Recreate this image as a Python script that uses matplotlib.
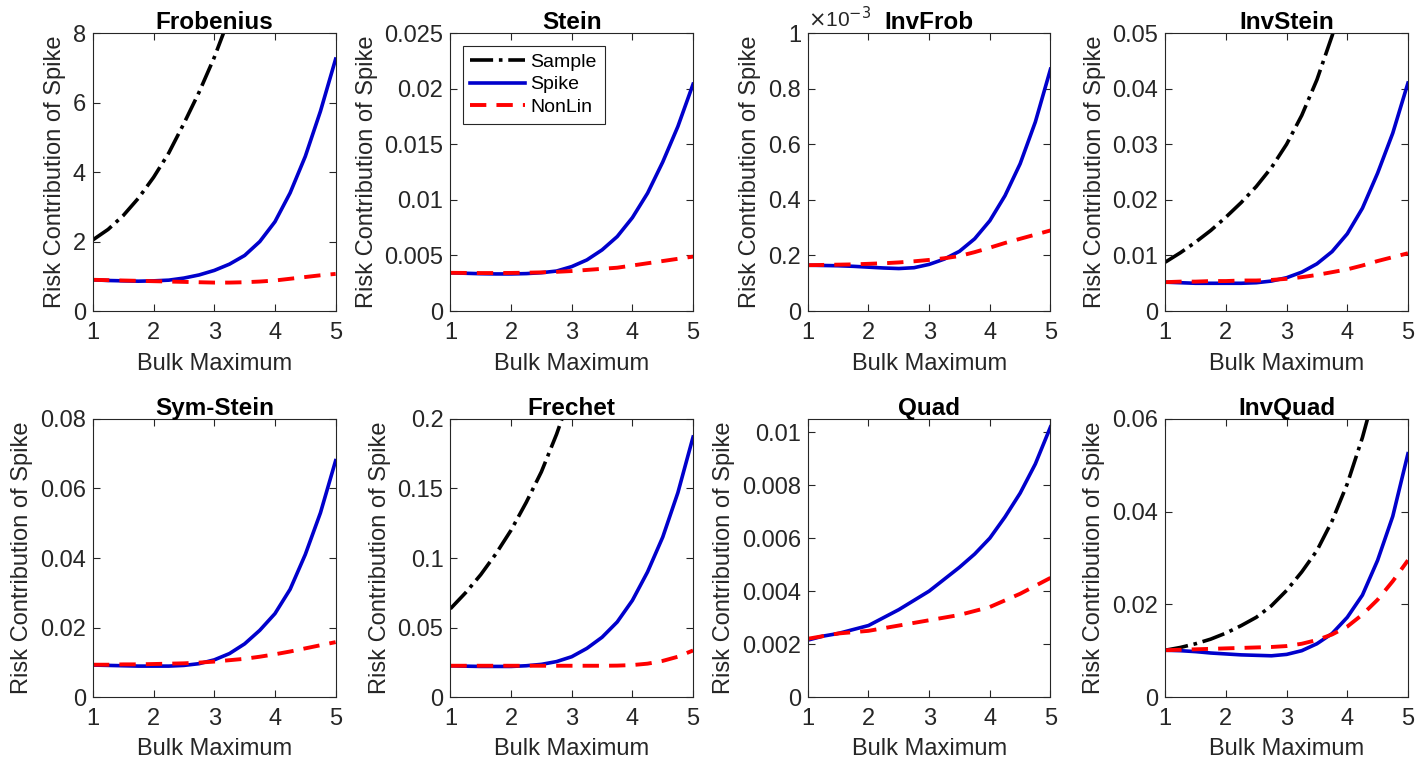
import numpy as np
import matplotlib
matplotlib.use('Agg')
import matplotlib.pyplot as plt
from matplotlib.lines import Line2D
from matplotlib.ticker import FuncFormatter

plt.rcParams['font.family'] = ['Liberation Sans', 'DejaVu Sans']

nan = np.nan
bulk_max = [1.0, 1.25, 1.5, 1.75, 2.0, 2.25, 2.5, 2.75, 3.0,
            3.25, 3.5, 3.75, 4.0, 4.25, 4.5, 4.75, 5.0]

titles = ['Frobenius', 'Stein', 'InvFrob', 'InvStein',
          'Sym-Stein', 'Frechet', 'Quad', 'InvQuad']

# values (nan = curve already above the axis)
sample = {
    'Frobenius': [2.05, 2.35, 2.75, 3.25, 3.85, 4.55, 5.4, 6.3, 7.3, 8.45, 9.8,
                  nan, nan, nan, nan, nan, nan],
    'InvStein': [0.0088, 0.0105, 0.0124, 0.0145, 0.0169, 0.0195, 0.0224, 0.0258,
                 0.0300, 0.0352, 0.0416, 0.0495, 0.058, nan, nan, nan, nan],
    'Frechet': [0.0635, 0.075, 0.088, 0.103, 0.120, 0.140, 0.162, 0.189, 0.22,
                0.255, nan, nan, nan, nan, nan, nan, nan],
    'InvQuad': [0.0101, 0.0107, 0.0115, 0.0125, 0.0138, 0.0154, 0.0172, 0.0197,
                0.0230, 0.027, 0.0316, 0.038, 0.046, 0.056, 0.068, nan, nan],
}

spike = {
    'Frobenius': [0.90, 0.88, 0.87, 0.86, 0.87, 0.89, 0.95, 1.04, 1.17,
                  1.35, 1.6, 2.0, 2.57, 3.4, 4.45, 5.75, 7.25],
    'Stein': [0.00344, 0.0034, 0.00336, 0.00334, 0.00334, 0.00337, 0.00345, 0.0036,
              0.0040, 0.0046, 0.0055, 0.0067, 0.0084, 0.0106, 0.0134, 0.0166, 0.0204],
    'InvFrob': [0.165e-3, 0.164e-3, 0.163e-3, 0.161e-3, 0.158e-3, 0.155e-3, 0.153e-3,
                0.156e-3, 0.168e-3, 0.187e-3, 0.215e-3, 0.26e-3, 0.325e-3, 0.415e-3,
                0.53e-3, 0.68e-3, 0.87e-3],
    'InvStein': [0.0052, 0.0051, 0.0050, 0.0050, 0.0050, 0.0050, 0.0051, 0.0054,
                 0.0060, 0.0070, 0.0085, 0.0107, 0.0139, 0.0185, 0.0248, 0.032, 0.041],
    'Sym-Stein': [0.0092, 0.0091, 0.0090, 0.0089, 0.0089, 0.0089, 0.0091, 0.0096,
                  0.0107, 0.0125, 0.0153, 0.0192, 0.024, 0.031, 0.041, 0.053, 0.068],
    'Frechet': [0.0225, 0.0222, 0.022, 0.022, 0.022, 0.0225, 0.0235, 0.0255, 0.029,
                0.035, 0.043, 0.054, 0.0695, 0.09, 0.115, 0.147, 0.187],
    'Quad': [0.00215, 0.0023, 0.0024, 0.00255, 0.0027, 0.0030, 0.0033, 0.00365,
             0.0040, 0.00445, 0.0049, 0.0054, 0.0060, 0.0068, 0.0077, 0.0088, 0.0102],
    'InvQuad': [0.0101, 0.0100, 0.0098, 0.0095, 0.0093, 0.0091, 0.0090, 0.0089,
                0.0092, 0.0100, 0.0115, 0.0137, 0.0172, 0.022, 0.0295, 0.039, 0.0525],
}

nonlin = {
    'Frobenius': [0.90, 0.89, 0.88, 0.87, 0.86, 0.85, 0.84, 0.83, 0.82,
                  0.82, 0.83, 0.85, 0.88, 0.93, 0.98, 1.03, 1.07],
    'Stein': [0.00344, 0.00343, 0.00342, 0.00342, 0.00343, 0.00345, 0.00348, 0.00353,
              0.0036, 0.0037, 0.0038, 0.0039, 0.0041, 0.0043, 0.0045, 0.0047, 0.0049],
    'InvFrob': [0.165e-3, 0.166e-3, 0.167e-3, 0.168e-3, 0.170e-3, 0.172e-3, 0.175e-3,
                0.179e-3, 0.184e-3, 0.19e-3, 0.198e-3, 0.212e-3, 0.228e-3, 0.245e-3,
                0.26e-3, 0.275e-3, 0.29e-3],
    'InvStein': [0.0052, 0.0053, 0.0053, 0.0054, 0.0054, 0.0055, 0.0055, 0.0056,
                 0.0058, 0.0061, 0.0065, 0.0070, 0.0075, 0.0082, 0.009, 0.0097, 0.0104],
    'Sym-Stein': [0.0093, 0.0093, 0.0094, 0.0094, 0.0095, 0.0096, 0.0097, 0.0099,
                  0.0102, 0.0106, 0.011, 0.0116, 0.0123, 0.0131, 0.014, 0.0149, 0.0158],
    'Frechet': [0.0225, 0.0225, 0.0225, 0.0225, 0.0225, 0.0225, 0.0225, 0.0225, 0.0225,
                0.0225, 0.0225, 0.0226, 0.023, 0.024, 0.026, 0.029, 0.0335],
    'Quad': [0.0022, 0.0023, 0.0024, 0.00245, 0.0025, 0.0026, 0.0027, 0.0028, 0.0029,
             0.0030, 0.0031, 0.00325, 0.0034, 0.00365, 0.0039, 0.0042, 0.0045],
    'InvQuad': [0.0101, 0.0102, 0.0103, 0.0104, 0.0105, 0.0106, 0.0107, 0.0108, 0.011,
                0.0115, 0.0123, 0.0135, 0.0152, 0.0178, 0.021, 0.025, 0.0295],
}

y_ticks = {
    'Frobenius': [0, 2, 4, 6, 8],
    'Stein': [0, 0.005, 0.01, 0.015, 0.02, 0.025],
    'InvFrob': [0, 0.2e-3, 0.4e-3, 0.6e-3, 0.8e-3, 1e-3],
    'InvStein': [0, 0.01, 0.02, 0.03, 0.04, 0.05],
    'Sym-Stein': [0, 0.02, 0.04, 0.06, 0.08],
    'Frechet': [0, 0.05, 0.1, 0.15, 0.2],
    'Quad': [0, 0.002, 0.004, 0.006, 0.008, 0.01],
    'InvQuad': [0, 0.02, 0.04, 0.06],
}
y_max = {'Quad': 0.0105}

dark = '#262626'
spike_col = '#0000CC'
red_dash = (0, (4.2, 2.6))
fs = 17

fig, axes = plt.subplots(2, 4, figsize=(14.17, 7.68), dpi=100)
fig.subplots_adjust(left=0.0656, right=0.9936, bottom=0.0924, top=0.957,
                    wspace=0.473, hspace=0.388)

for ax, name in zip(axes.flat, titles):
    if name in sample:
        ax.plot(bulk_max, sample[name], color='k', ls='-.', lw=2.6)
    ax.plot(bulk_max, spike[name], color=spike_col, ls='-', lw=2.6)
    ax.plot(bulk_max, nonlin[name], color='#FF0000', ls=red_dash, lw=2.8)

    ticks = y_ticks[name]
    ax.set_xlim(1, 5)
    ax.set_ylim(0, y_max.get(name, ticks[-1]))
    ax.set_xticks([1, 2, 3, 4, 5])
    ax.set_yticks(ticks)
    if name == 'InvFrob':
        ax.yaxis.set_major_formatter(FuncFormatter(lambda v, p: '%g' % round(v * 1e3, 6)))
        ax.text(0.0, 1.005, r'$\times$10$^{-3}$', transform=ax.transAxes,
                fontsize=15, color=dark, ha='left', va='bottom')
    else:
        ax.yaxis.set_major_formatter(FuncFormatter(lambda v, p: '%g' % round(v, 8)))

    ax.tick_params(direction='in', top=True, right=True, labelsize=fs,
                   colors=dark, length=5, width=0.8)
    ax.tick_params(axis='x', pad=8)
    ax.tick_params(axis='y', pad=5)
    for sp in ax.spines.values():
        sp.set_color(dark)
        sp.set_linewidth(0.8)
    ax.set_title(name, fontsize=17.5, fontweight='bold', pad=3)
    ax.set_xlabel('Bulk Maximum', fontsize=fs, color=dark, labelpad=6)
    ax.set_ylabel('Risk Contribution of Spike', fontsize=fs, color=dark, labelpad=5)

handles = [Line2D([], [], color='k', ls='-.', lw=2.6),
           Line2D([], [], color=spike_col, ls='-', lw=2.6),
           Line2D([], [], color='#FF0000', ls=red_dash, lw=2.8)]
leg = axes[0, 1].legend(handles, ['Sample', 'Spike', 'NonLin'], loc='upper left',
                        bbox_to_anchor=(0.05, 0.955), fontsize=14, fancybox=False,
                        framealpha=1, edgecolor=dark, handlelength=2.8,
                        borderpad=0.4, labelspacing=0.25, handletextpad=0.3,
                        borderaxespad=0)
leg.get_frame().set_linewidth(0.8)

fig.savefig('out.png', dpi=100)
